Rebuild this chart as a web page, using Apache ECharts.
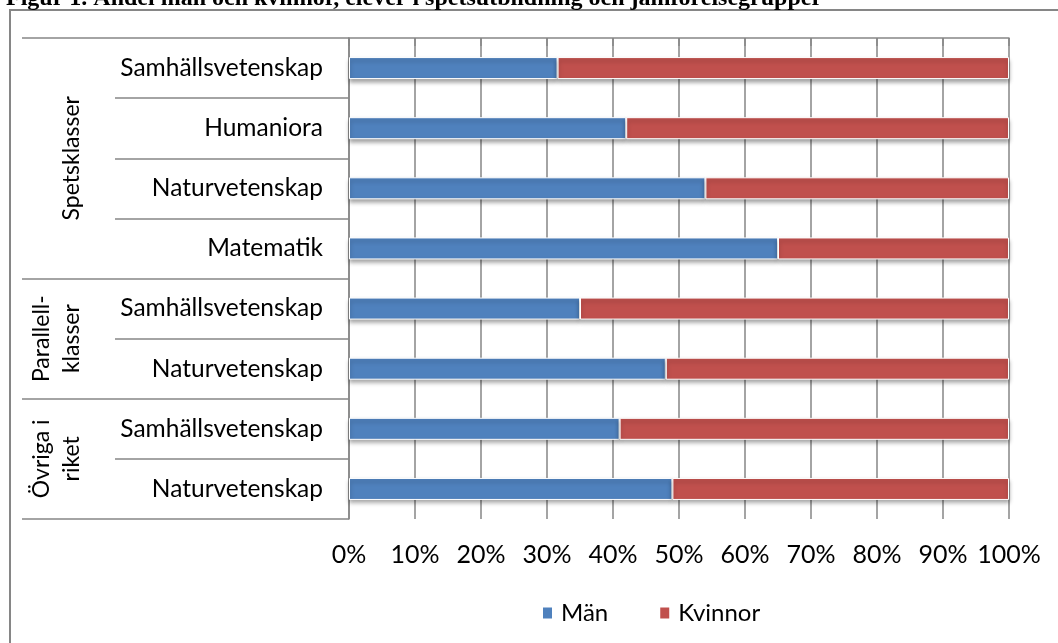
<!DOCTYPE html>
<html>
<head>
<meta charset="utf-8">
<title>Figur 1</title>
<script src="https://cdn.jsdelivr.net/npm/echarts@6/dist/echarts.min.js"></script>
<style>
  html, body { margin: 0; padding: 0; background: #fff; }
  #chart { width: 1058px; height: 643px; }
</style>
</head>
<body>
<div id="chart"></div>
<script>
// data, top row first
var categories = ['Samhällsvetenskap', 'Humaniora', 'Naturvetenskap', 'Matematik',
                  'Samhällsvetenskap', 'Naturvetenskap',
                  'Samhällsvetenskap', 'Naturvetenskap'];
var groupNames = ['Spetsklasser', 'Parallell-\nklasser', 'Övriga i\nriket'];
var groupSizes = [4, 2, 2];
var men   = [31.6, 42, 54, 65, 35, 48, 41, 49];
var women = [68.4, 58, 46, 35, 65, 52, 59, 51];
var seriesNames = ['Män', 'Kvinnor'];
var xTicks = [0, 10, 20, 30, 40, 50, 60, 70, 80, 90, 100];

// group boundaries and label positions on a 0..8 scale
var bounds = [0];
var mids = [];
groupSizes.forEach(function (n, i) {
  mids.push(bounds[i] + n / 2);
  bounds.push(bounds[i] + n);
});

var gray = '#868686';
var font = 'Lato';

var chart = echarts.init(document.getElementById('chart'));

var option = {
  animation: false,
  backgroundColor: '#fff',
  title: {
    text: 'Figur 1. Andel män och kvinnor, elever i spetsutbildning och jämförelsegrupper',
    left: 6,
    top: -13,
    padding: 0,
    textStyle: { fontFamily: 'Liberation Serif', fontWeight: 'bold', fontSize: 24, color: '#000' }
  },
  graphic: [{
    type: 'rect',
    shape: { x: 10, y: 10, width: 1200, height: 800 },
    style: { fill: null, stroke: gray, lineWidth: 2 },
    silent: true
  }],
  legend: {
    data: seriesNames,
    left: 541,
    top: 601,
    padding: 0,
    icon: 'rect',
    itemWidth: 11,
    itemHeight: 13,
    itemGap: 50,
    textStyle: { fontFamily: font, fontSize: 24, color: '#000', padding: [0, 0, 0, 3] }
  },
  grid: {
    left: 349,
    top: 38,
    width: 660,
    height: 481,
    outerBoundsMode: 'none'
  },
  xAxis: {
    type: 'value',
    min: 0,
    max: 100,
    interval: 10,
    axisLine: { show: true, lineStyle: { color: gray, width: 1.5 } },
    axisTick: { show: true, length: 8, lineStyle: { color: gray, width: 1.5 } },
    splitLine: { show: true, lineStyle: { color: gray, width: 1.5 } },
    axisLabel: {
      margin: 23,
      fontFamily: font,
      fontSize: 25,
      color: '#000',
      formatter: function (v) { return xTicks.indexOf(v) >= 0 ? v + '%' : ''; }
    }
  },
  yAxis: [{
    type: 'category',
    inverse: true,
    data: categories,
    axisLine: { show: true, lineStyle: { color: gray, width: 1.5 } },
    axisTick: { show: true, alignWithLabel: false, length: 234, lineStyle: { color: gray, width: 1.5 } },
    splitLine: { show: false },
    axisLabel: { margin: 26, fontFamily: font, fontSize: 24.5, color: '#000' }
  }, {
    // group level: long separators and rotated group names
    type: 'value',
    position: 'left',
    inverse: true,
    min: 0,
    max: bounds[bounds.length - 1],
    interval: 1,
    axisLine: { show: false },
    splitLine: { show: false },
    axisTick: { show: true, customValues: bounds, length: 327, lineStyle: { color: gray, width: 1.5 } },
    axisLabel: {
      customValues: mids,
      rotate: 90,
      margin: 262,
      fontFamily: font,
      fontSize: 23,
      lineHeight: 30,
      color: '#000',
      formatter: function (v) { return groupNames[mids.indexOf(v)]; }
    }
  }],
  series: [{
    name: seriesNames[0],
    type: 'bar',
    stack: 'total',
    barWidth: 22,
    data: men,
    itemStyle: {
      color: '#4F81BD',
      borderColor: '#ffffff',
      borderWidth: 1,
      shadowColor: 'rgba(0,0,0,0.35)',
      shadowBlur: 4,
      shadowOffsetY: 3
    }
  }, {
    name: seriesNames[1],
    type: 'bar',
    stack: 'total',
    barWidth: 22,
    data: women,
    itemStyle: {
      color: '#C0504D',
      borderColor: '#ffffff',
      borderWidth: 1,
      shadowColor: 'rgba(0,0,0,0.35)',
      shadowBlur: 4,
      shadowOffsetY: 3
    }
  }]
};

chart.setOption(option);
</script>
</body>
</html>
